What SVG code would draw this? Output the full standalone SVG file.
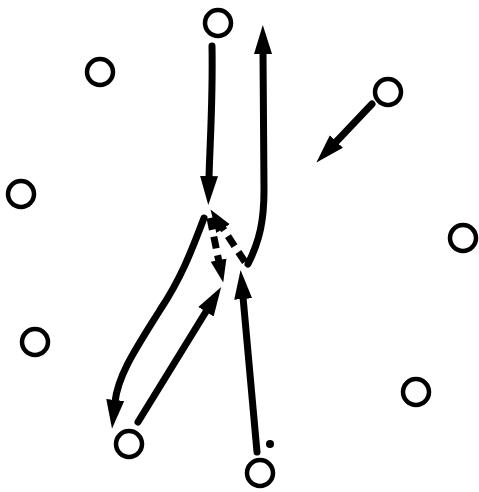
<svg xmlns="http://www.w3.org/2000/svg" width="479" height="492" viewBox="0 0 479 492">
<style>
.node{fill:none;stroke:#000;stroke-width:4.5}
.edge{fill:none;stroke:#000;stroke-width:7;stroke-linecap:round}
.dash{stroke-dasharray:12 7;stroke-linecap:butt}
</style>
<defs>
<marker id="ah" markerUnits="userSpaceOnUse" markerWidth="34" markerHeight="22" viewBox="0 -11 34 22" refX="2" refY="0" orient="auto"><path d="M0,-9 L29,0 L0,9 z" fill="#000"/></marker>
<marker id="ahs" markerUnits="userSpaceOnUse" markerWidth="28" markerHeight="20" viewBox="0 -10 28 20" refX="2" refY="0" orient="auto"><path d="M0,-8 L23,0 L0,8 z" fill="#000"/></marker>
</defs>
<rect width="479" height="492" fill="#fff"/>
<g id="connectors">
<path class="edge" d="M212,46 C213,100 210,140 209,178" marker-end="url(#ah)"/>
<path class="edge" d="M248,264 C260,240 264,220 264,190 L263,52" marker-end="url(#ah)"/>
<path class="edge" d="M204,218 C190,255 180,280 160,310 C135,350 118,375 115,402" marker-end="url(#ah)"/>
<path class="edge" d="M138,422 L207,310" marker-end="url(#ah)"/>
<path class="edge" d="M257,452 L243,297" marker-end="url(#ah)"/>
<path class="edge dash" d="M210,218 L219,262" marker-end="url(#ahs)"/>
<path class="edge dash" d="M245,262 L222,227" marker-end="url(#ahs)"/>
<path class="edge" d="M372,104 L335,143" marker-end="url(#ah)"/>
</g>
<g id="n1"><circle class="node" cx="218" cy="23" r="13"/></g>
<g id="n2"><circle class="node" cx="100" cy="72" r="13"/></g>
<g id="n3"><circle class="node" cx="21" cy="194" r="13"/></g>
<g id="n4"><circle class="node" cx="35" cy="342" r="13"/></g>
<g id="n5"><circle class="node" cx="388" cy="92" r="13"/></g>
<g id="n6"><circle class="node" cx="463" cy="238" r="13"/></g>
<g id="n7"><circle class="node" cx="416" cy="392" r="13"/></g>
<g id="n8"><circle class="node" cx="129" cy="444" r="13"/></g>
<g id="n9"><circle class="node" cx="260" cy="473" r="13"/></g>
<g id="dot"><circle cx="270" cy="444" r="4" fill="#000"/></g>
</svg>
